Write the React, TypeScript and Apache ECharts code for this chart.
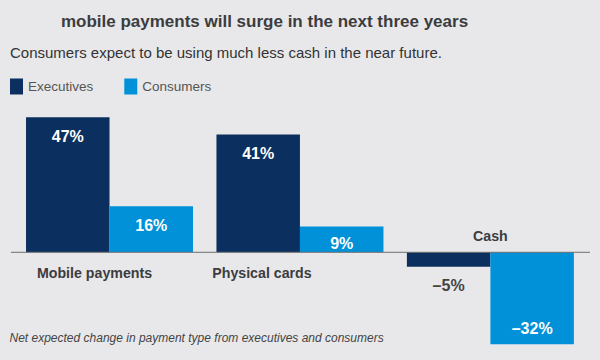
import React, { useEffect, useRef } from "react";
import * as echarts from "echarts";

const categories = ["Mobile payments", "Physical cards", "Cash"];
const seriesNames = ["Executives", "Consumers"];
const executives = [47, 41, -5];
const consumers = [16, 9, -32];
const titleText = "mobile payments will surge in the next three years";
const subtitleText = "Consumers expect to be using much less cash in the near future.";
const footnoteText = "Net expected change in payment type from executives and consumers";

const FONT = "'Liberation Sans', Arial, sans-serif";
const NAVY = "#0b305f";
const BLUE = "#0091d8";
const TEXT = "#3c3c3e";

function fmt(v: number) {
  return v < 0 ? `\u2013${Math.abs(v)}%` : `${v}%`;
}

function makeData(values: number[]) {
  return values.map((v) => {
    let label: any;
    if (v >= 0) {
      label = { position: "insideTop", distance: v < 10 ? 9 : 11, color: "#fff" };
    } else if (v > -10) {
      label = { position: "bottom", distance: 11, color: "#444" };
    } else {
      label = { position: "insideBottom", distance: 8, color: "#fff" };
    }
    return { value: v, label };
  });
}

export default function App() {
  const ref = useRef<HTMLDivElement>(null);
  useEffect(() => {
    const chart = echarts.init(ref.current!, null, { renderer: "svg" });
    const labelCommon = {
      show: true,
      fontFamily: FONT,
      fontWeight: "bold" as const,
      fontSize: 16,
      formatter: (p: any) => fmt(p.value),
    };
    chart.setOption({
      animation: false,
      backgroundColor: "#e8e8ea",
      textStyle: { fontFamily: FONT },
      legend: {
        left: 10,
        top: 78.5,
        padding: 0,
        icon: "rect",
        itemWidth: 13,
        itemHeight: 16,
        itemGap: 31,
        textStyle: { fontSize: 13.5, color: "#555", fontFamily: FONT },
        data: seriesNames,
      },
      grid: { left: 14.3, right: 14.4, top: 108.7, bottom: 7.2, containLabel: false },
      xAxis: {
        type: "category",
        data: categories,
        show: false,
      },
      yAxis: {
        type: "value",
        min: -35,
        max: 50,
        show: false,
        splitLine: { show: false },
      },
      series: [
        {
          name: seriesNames[0],
          type: "bar",
          data: makeData(executives),
          itemStyle: { color: NAVY },
          barWidth: 83.5,
          barGap: "0%",
          label: labelCommon,
        },
        {
          name: seriesNames[1],
          type: "bar",
          data: makeData(consumers),
          itemStyle: { color: BLUE },
          barWidth: 83.5,
          barGap: "0%",
          label: labelCommon,
        },
      ],
    });

    const zeroY = chart.convertToPixel({ yAxisIndex: 0 }, 0) as number;
    const catOffsets = [-15, -38, 0];
    const catTexts = categories.map((c, i) => {
      const cx = chart.convertToPixel({ xAxisIndex: 0 }, c) as number;
      const allNeg = executives[i] < 0 && consumers[i] < 0;
      return {
        type: "text",
        x: cx + catOffsets[i],
        y: allNeg ? zeroY - 16.6 : zeroY + 21,
        style: {
          text: c,
          fill: TEXT,
          font: `bold 14.2px ${FONT}`,
          textAlign: "center",
          textVerticalAlign: "middle",
        },
      };
    });

    chart.setOption({
      graphic: [
        {
          type: "text",
          x: 264.5,
          y: 21.4,
          style: {
            text: titleText,
            fill: TEXT,
            font: `bold 17px ${FONT}`,
            textAlign: "center",
            textVerticalAlign: "middle",
          },
        },
        {
          type: "text",
          x: 10,
          y: 52,
          style: {
            text: subtitleText,
            fill: "#333",
            font: `15px ${FONT}`,
            textAlign: "left",
            textVerticalAlign: "middle",
          },
        },
        {
          type: "line",
          shape: { x1: 11, y1: zeroY, x2: 590, y2: zeroY },
          style: { stroke: "#6e6e70", lineWidth: 1 },
          z: 10,
        },
        ...catTexts,
        {
          type: "text",
          x: 9.5,
          y: 337.5,
          style: {
            text: footnoteText,
            fill: "#444",
            font: `italic 12px ${FONT}`,
            textAlign: "left",
            textVerticalAlign: "middle",
          },
        },
      ],
    });
    return () => chart.dispose();
  }, []);
  return (
    <div
      ref={ref}
      style={{ position: "absolute", left: 0, top: 0, width: 600, height: 360 }}
    />
  );
}
